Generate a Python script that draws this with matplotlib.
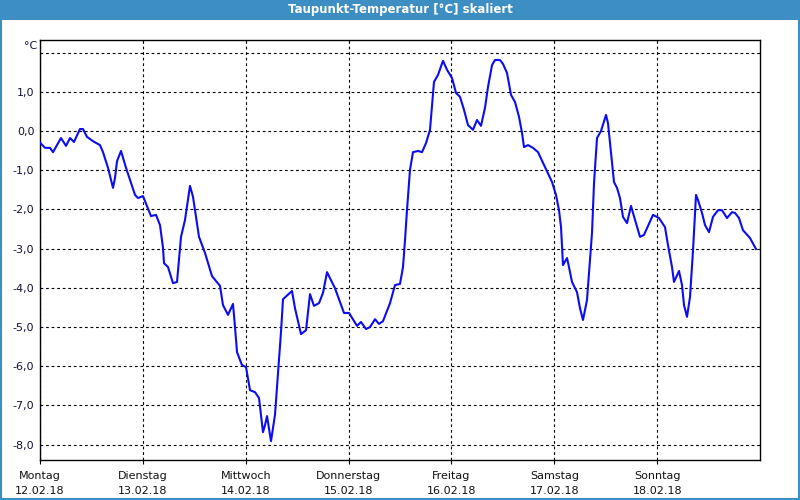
import matplotlib
matplotlib.use("Agg")
import matplotlib.pyplot as plt
from matplotlib.patches import Rectangle
from matplotlib.ticker import FixedLocator, FuncFormatter

# Hours since Monday 12.02.18 00:00
hours = [0, 1.17, 2.33, 3.03, 4.9, 6.07, 7.0, 7.93, 9.33, 10.03, 10.97, 12.37, 14.0, 14.7,
         15.87, 17.03, 17.5, 17.97, 18.9, 20.07, 22.17, 22.87, 24.03, 25.9, 27.07, 28.0,
         28.7, 28.93, 29.87, 31.03, 31.97, 32.9, 33.83, 35.0, 35.7, 37.1, 38.5, 40.13,
         42.0, 42.7, 43.87, 45.03, 45.5, 45.97, 47.13, 48.07, 49.0, 50.17, 51.1, 52.03,
         52.5, 52.97, 53.9, 54.83, 55.53, 56.23, 56.7, 58.8, 59.5, 60.9, 62.07, 63.0,
         63.93, 65.1, 66.03, 66.97, 68.83, 70.93, 72.1, 73.97, 74.9, 76.07, 77.0, 78.17,
         79.1, 80.03, 81.67, 82.83, 84.0, 84.7, 85.17, 85.63, 86.33, 87.03, 88.2, 89.13,
         90.07, 91.0, 91.93, 92.87, 94.03, 94.97, 96.13, 97.07, 98.0, 98.93, 99.87, 101.03,
         101.97, 102.9, 103.83, 104.53, 105.47, 106.17, 107.33, 108.03, 108.97, 109.9,
         110.83, 111.77, 112.47, 112.93, 113.87, 115.03, 116.2, 117.83, 119.47, 120.4,
         121.1, 121.57, 122.03, 122.97, 123.43, 124.13, 125.3, 126.0, 126.7, 127.63,
         128.1, 128.8, 129.27, 129.97, 130.9, 132.07, 132.53, 133.23, 133.93, 134.63,
         135.33, 136.03, 136.97, 137.9, 138.37, 140.0, 140.93, 143.03, 144.43, 145.83,
         146.53, 147.47, 147.93, 149.1, 149.8, 150.27, 150.97, 151.67, 152.37, 153.07,
         153.53, 154.47, 155.17, 156.1, 157.03, 158.2, 159.13, 160.3, 161.47, 162.17,
         163.1, 164.03, 165.67, 167.07]
dewpoint = [-0.3, -0.43, -0.43, -0.54, -0.18, -0.38, -0.18, -0.28, 0.05, 0.05, -0.15, -0.26,
            -0.36, -0.54, -0.94, -1.45, -1.2, -0.77, -0.51, -0.94, -1.63, -1.71, -1.66,
            -2.17, -2.14, -2.40, -2.98, -3.37, -3.47, -3.88, -3.85, -2.70, -2.27, -1.40,
            -1.68, -2.70, -3.11, -3.70, -3.95, -4.44, -4.69, -4.41, -5.0, -5.64, -5.97,
            -6.02, -6.61, -6.66, -6.81, -7.68, -7.50, -7.27, -7.91, -7.24, -6.17, -5.13,
            -4.29, -4.08, -4.52, -5.18, -5.08, -4.16, -4.46, -4.39, -4.13, -3.60, -4.01,
            -4.64, -4.64, -4.97, -4.87, -5.05, -5.0, -4.80, -4.92, -4.85, -4.39, -3.93,
            -3.90, -3.47, -2.78, -2.02, -0.99, -0.54, -0.51, -0.54, -0.31, 0.03, 1.25,
            1.43, 1.79, 1.56, 1.35, 0.97, 0.87, 0.54, 0.15, 0.03, 0.28, 0.13, 0.59, 1.12,
            1.68, 1.81, 1.81, 1.71, 1.48, 0.92, 0.74, 0.36, -0.05, -0.41, -0.36, -0.43,
            -0.54, -0.92, -1.30, -1.63, -2.02, -2.45, -3.42, -3.24, -3.47, -3.85, -4.11,
            -4.52, -4.82, -4.31, -3.62, -2.60, -1.33, -0.18, 0.0, 0.41, 0.20, -0.54, -1.30,
            -1.45, -1.71, -2.19, -2.35, -1.91, -2.09, -2.70, -2.65, -2.14, -2.22, -2.45,
            -2.91, -3.47, -3.85, -3.57, -3.93, -4.44, -4.74, -4.23, -3.04, -1.63, -1.76,
            -2.09, -2.40, -2.58, -2.19, -2.02, -2.02, -2.22, -2.07, -2.09, -2.22, -2.53,
            -2.73, -3.01]

day_names = ["Montag", "Dienstag", "Mittwoch", "Donnerstag", "Freitag", "Samstag", "Sonntag"]
day_dates = ["12.02.18", "13.02.18", "14.02.18", "15.02.18", "16.02.18", "17.02.18", "18.02.18"]
y_ticks = [-8, -7, -6, -5, -4, -3, -2, -1, 0, 1, 2]

title = "Taupunkt-Temperatur [°C] skaliert"
unit = "°C"

fig = plt.figure(figsize=(8, 5), dpi=100)
fig.patch.set_facecolor("white")

# title bar and frame
fig.patches.append(Rectangle((0, 0.96), 1, 0.04, transform=fig.transFigure,
                             facecolor="#3d8fc3", edgecolor="none", zorder=0))
fig.patches.append(Rectangle((0.001, 0.002), 0.998, 0.96, transform=fig.transFigure,
                             facecolor="none", edgecolor="#3d8fc3", linewidth=1.5, zorder=0))
fig.text(0.5, 0.981, title, color="white", fontsize=8.5, fontweight="bold",
         ha="center", va="center")

ax = fig.add_axes([0.05, 0.08, 0.90, 0.84])
ax.plot(hours, dewpoint, color="#0c0cf0", linewidth=1.5, zorder=3)

ax.set_xlim(0, 168)
ax.set_ylim(-8.39, 2.32)

ax.xaxis.set_major_locator(FixedLocator([24 * i for i in range(7)]))
ax.set_xticklabels([f"{n}\n{d}" for n, d in zip(day_names, day_dates)],
                   fontsize=8, linespacing=1.55)
ax.yaxis.set_major_locator(FixedLocator(y_ticks))
ax.yaxis.set_major_formatter(FuncFormatter(
    lambda v, p: "" if v >= 2 else f"{v:.1f}".replace(".", ",")))

ax.tick_params(axis="x", length=3, width=0.8, pad=5, colors="black", labelcolor="#111111")
ax.tick_params(axis="y", length=0, pad=4, labelsize=8, labelcolor="#111133")

ax.grid(True, color="black", linewidth=0.8, linestyle=(0, (2.5, 2.5)))
for s in ax.spines.values():
    s.set_linewidth(1.0)
    s.set_color("black")

fig.text(0.047, 0.908, unit, fontsize=8, ha="right", va="center", color="#111133")

fig.savefig("out.png", dpi=100)
